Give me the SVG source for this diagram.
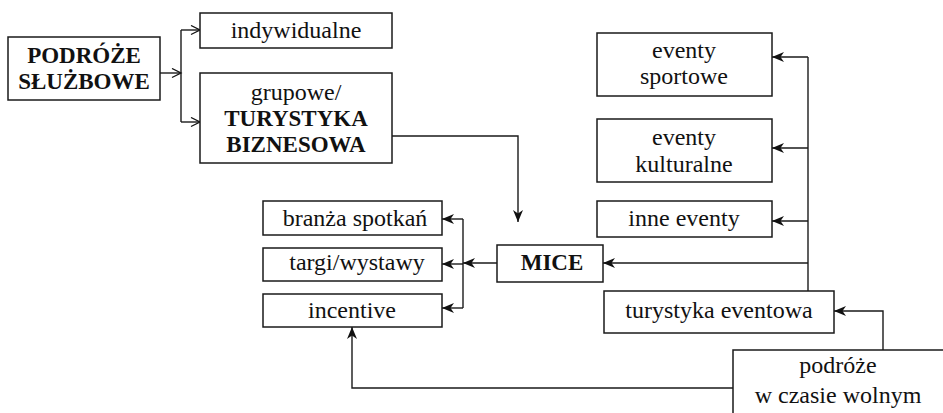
<svg xmlns="http://www.w3.org/2000/svg" width="943" height="413" viewBox="0 0 943 413">
  <style>
    .box { fill: #ffffff; stroke: #1a1a1a; stroke-width: 1.5; }
    .t { font-size: 24px; fill: #111111; text-anchor: middle; }
    .b { font-weight: bold; font-size: 23px; }
    .ln { fill: none; stroke: #1a1a1a; stroke-width: 1.4; }
    .arr { marker-end: url(#head); }
    .open { marker-end: url(#chev); }
  </style>
  <defs>
    <marker id="head" markerUnits="userSpaceOnUse" markerWidth="14" markerHeight="12" refX="12" refY="5" orient="auto">
      <path d="M0,0 L12,5 L0,10 L3.5,5 Z" fill="#111111"/>
    </marker>
    <marker id="chev" markerUnits="userSpaceOnUse" markerWidth="14" markerHeight="12" refX="11" refY="5" orient="auto">
      <path d="M2,0.5 L11,5 L2,9.5" fill="none" stroke="#111111" stroke-width="1.3"/>
    </marker>
  </defs>

  <!-- connectors -->
  <g id="connectors">
    <path class="ln open" d="M160,73 H181"/>
    <path class="ln" d="M181,30 V122"/>
    <path class="ln open" d="M181,30 H200"/>
    <path class="ln open" d="M181,122 H200"/>
    <path class="ln arr" d="M392,136 H518 V222"/>
    <path class="ln arr" d="M497,263 H463"/>
    <path class="ln" d="M463,219 V308"/>
    <path class="ln arr" d="M463,219 H442"/>
    <path class="ln arr" d="M463,264 H442"/>
    <path class="ln arr" d="M463,308 H442"/>
    <path class="ln" d="M808,291 V57"/>
    <path class="ln arr" d="M808,57 H772"/>
    <path class="ln arr" d="M808,148 H772"/>
    <path class="ln arr" d="M808,221 H772"/>
    <path class="ln arr" d="M808,263 H603"/>
    <path class="ln arr" d="M883,350 V311 H834"/>
    <path class="ln arr" d="M733,388 H352 V327"/>
  </g>

  <g font-family="'Liberation Serif', 'Times New Roman', serif">
    <g id="podroze-sluzbowe">
      <rect class="box" x="8" y="37" width="152" height="63"/>
      <text class="t b" x="84" y="63">PODRÓŻE</text>
      <text class="t b" x="84" y="89">SŁUŻBOWE</text>
    </g>
    <g id="indywidualne">
      <rect class="box" x="200" y="13" width="192" height="35"/>
      <text class="t" x="296" y="38">indywidualne</text>
    </g>
    <g id="grupowe">
      <rect class="box" x="200" y="73" width="192" height="90"/>
      <text class="t" x="296" y="100">grupowe/</text>
      <text class="t b" x="296" y="126">TURYSTYKA</text>
      <text class="t b" x="296" y="152">BIZNESOWA</text>
    </g>
    <g id="branza-spotkan">
      <rect class="box" x="263" y="201" width="179" height="34"/>
      <text class="t" x="355" y="226">branża spotkań</text>
    </g>
    <g id="targi-wystawy">
      <rect class="box" x="263" y="248" width="179" height="33"/>
      <text class="t" x="357" y="270">targi/wystawy</text>
    </g>
    <g id="incentive">
      <rect class="box" x="263" y="294" width="179" height="33"/>
      <text class="t" x="352" y="318">incentive</text>
    </g>
    <g id="mice">
      <rect class="box" x="497" y="245" width="106" height="37"/>
      <text class="t b" x="552" y="270">MICE</text>
    </g>
    <g id="eventy-sportowe">
      <rect class="box" x="597" y="33" width="175" height="63"/>
      <text class="t" x="684" y="58">eventy</text>
      <text class="t" x="684" y="84">sportowe</text>
    </g>
    <g id="eventy-kulturalne">
      <rect class="box" x="597" y="119" width="175" height="63"/>
      <text class="t" x="684" y="145">eventy</text>
      <text class="t" x="684" y="172">kulturalne</text>
    </g>
    <g id="inne-eventy">
      <rect class="box" x="597" y="201" width="175" height="36"/>
      <text class="t" x="684" y="226">inne eventy</text>
    </g>
    <g id="turystyka-eventowa">
      <rect class="box" x="604" y="291" width="230" height="42"/>
      <text class="t" x="719" y="318">turystyka eventowa</text>
    </g>
    <g id="podroze-wolny-czas">
      <rect class="box" x="733" y="350" width="220" height="80"/>
      <text class="t" x="838" y="373">podróże</text>
      <text class="t" x="838" y="403">w czasie wolnym</text>
    </g>
  </g>
</svg>
